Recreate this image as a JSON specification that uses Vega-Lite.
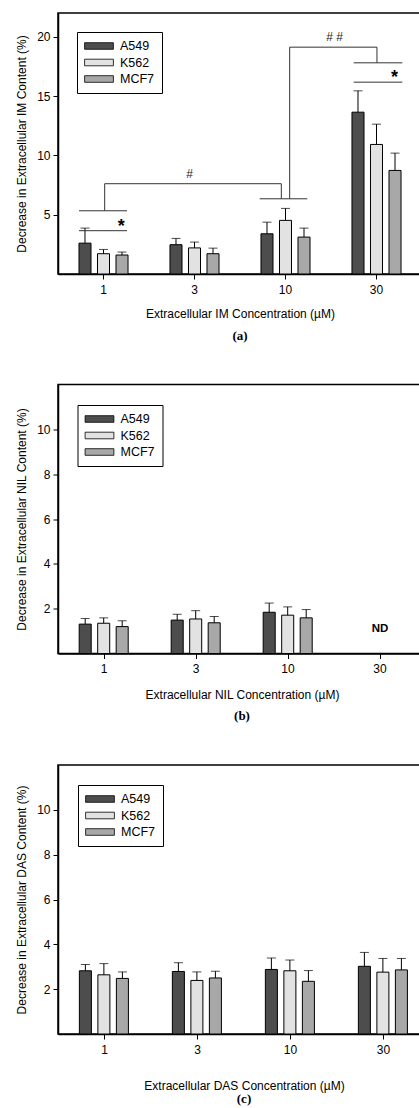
{
  "$schema": "https://vega.github.io/schema/vega-lite/v6.json",
  "padding": {"top": 12, "left": 14, "right": 0, "bottom": 0},
  "background": "white",
  "spacing": 39.5,
  "datasets": {
    "a_bars": [
      {"conc": "1", "cell": "A549", "mean": 2.6, "upper": 3.87},
      {"conc": "1", "cell": "K562", "mean": 1.71, "upper": 2.07},
      {"conc": "1", "cell": "MCF7", "mean": 1.6, "upper": 1.85},
      {"conc": "3", "cell": "A549", "mean": 2.47, "upper": 3.0},
      {"conc": "3", "cell": "K562", "mean": 2.2, "upper": 2.69},
      {"conc": "3", "cell": "MCF7", "mean": 1.71, "upper": 2.18},
      {"conc": "10", "cell": "A549", "mean": 3.39, "upper": 4.37},
      {"conc": "10", "cell": "K562", "mean": 4.52, "upper": 5.53},
      {"conc": "10", "cell": "MCF7", "mean": 3.11, "upper": 3.87},
      {"conc": "30", "cell": "A549", "mean": 13.64, "upper": 15.44},
      {"conc": "30", "cell": "K562", "mean": 10.92, "upper": 12.63},
      {"conc": "30", "cell": "MCF7", "mean": 8.73, "upper": 10.19}
    ],
    "b_bars": [
      {"conc": "1", "cell": "A549", "mean": 1.31, "upper": 1.56},
      {"conc": "1", "cell": "K562", "mean": 1.35, "upper": 1.59},
      {"conc": "1", "cell": "MCF7", "mean": 1.2, "upper": 1.46},
      {"conc": "3", "cell": "A549", "mean": 1.49, "upper": 1.75},
      {"conc": "3", "cell": "K562", "mean": 1.54, "upper": 1.91},
      {"conc": "3", "cell": "MCF7", "mean": 1.37, "upper": 1.65},
      {"conc": "10", "cell": "A549", "mean": 1.84, "upper": 2.25},
      {"conc": "10", "cell": "K562", "mean": 1.71, "upper": 2.08},
      {"conc": "10", "cell": "MCF7", "mean": 1.59, "upper": 1.96}
    ],
    "c_bars": [
      {"conc": "1", "cell": "A549", "mean": 2.82, "upper": 3.1},
      {"conc": "1", "cell": "K562", "mean": 2.64, "upper": 3.14},
      {"conc": "1", "cell": "MCF7", "mean": 2.48, "upper": 2.77},
      {"conc": "3", "cell": "A549", "mean": 2.79, "upper": 3.18},
      {"conc": "3", "cell": "K562", "mean": 2.39, "upper": 2.77},
      {"conc": "3", "cell": "MCF7", "mean": 2.5, "upper": 2.8},
      {"conc": "10", "cell": "A549", "mean": 2.88, "upper": 3.39},
      {"conc": "10", "cell": "K562", "mean": 2.82, "upper": 3.3},
      {"conc": "10", "cell": "MCF7", "mean": 2.35, "upper": 2.83},
      {"conc": "30", "cell": "A549", "mean": 3.02, "upper": 3.64},
      {"conc": "30", "cell": "K562", "mean": 2.76, "upper": 3.37},
      {"conc": "30", "cell": "MCF7", "mean": 2.86, "upper": 3.37}
    ],
    "a_lines": [
      {"x1": 0.231, "x2": 0.758, "y1": 5.33, "y2": 5.33},
      {"x1": 0.231, "x2": 0.758, "y1": 3.65, "y2": 3.65},
      {"x1": 0.513, "x2": 0.513, "y1": 5.33, "y2": 7.61},
      {"x1": 0.513, "x2": 2.454, "y1": 7.61, "y2": 7.61},
      {"x1": 2.454, "x2": 2.454, "y1": 7.61, "y2": 6.34},
      {"x1": 2.216, "x2": 2.74, "y1": 6.34, "y2": 6.34},
      {"x1": 2.546, "x2": 2.546, "y1": 6.34, "y2": 19.12},
      {"x1": 2.546, "x2": 3.505, "y1": 19.12, "y2": 19.12},
      {"x1": 3.505, "x2": 3.505, "y1": 19.12, "y2": 17.8},
      {"x1": 3.249, "x2": 3.784, "y1": 17.8, "y2": 17.8},
      {"x1": 3.249, "x2": 3.784, "y1": 16.17, "y2": 16.17}
    ],
    "a_stars": [
      {"x": 0.696, "y": 4.37, "label": "*"},
      {"x": 3.699, "y": 16.93, "label": "*"}
    ],
    "a_hash": [
      {"x": 1.447, "y": 8.39, "label": "#"},
      {"x": 3.04, "y": 19.96, "label": "# #"}
    ],
    "b_text": [
      {"conc": "30", "y": 1.1, "label": "ND"}
    ]
  },
  "vconcat": [
    {
      "width": 364,
      "height": 261,
      "title": {"text": "(a)", "orient": "bottom", "anchor": "middle", "offset": 10, "font": "Liberation Serif", "fontSize": 13, "fontWeight": "bold", "color": "black"},
      "layer": [
        {
          "data": {"name": "a_bars"},
          "encoding": {
            "x": {"field": "conc", "type": "nominal", "sort": ["1", "3", "10", "30"],
              "scale": {"domain": ["1", "3", "10", "30"], "paddingInner": 0.39, "paddingOuter": 0.195},
              "axis": {"title": "Extracellular IM Concentration (µM)", "labelAngle": 0, "labelPadding": 5, "titlePadding": 13.5}},
            "xOffset": {"field": "cell", "type": "nominal", "scale": {"paddingInner": 0.35, "paddingOuter": 0.175}}
          },
          "layer": [
            {
              "mark": {"type": "bar", "stroke": "black", "strokeWidth": 1},
              "encoding": {
                "y": {"field": "mean", "type": "quantitative", "scale": {"domain": [0, 22], "nice": false},
                  "axis": {"values": [5, 10, 15, 20], "title": "Decrease in Extracellular IM Content (%)", "labelPadding": 3, "titlePadding": 8}},
                "fill": {"field": "cell", "type": "nominal",
                  "scale": {"domain": ["A549", "K562", "MCF7"], "range": ["#4d4d4d", "#e2e2e2", "#a8a8a8"]},
                  "legend": {"orient": "none", "legendX": 19, "legendY": 19, "title": null, "strokeColor": "black", "fillColor": "white", "padding": 7.5,
                    "symbolType": "M-2.4,-0.55H2.4V0.55H-2.4Z", "symbolSize": 144, "symbolStrokeColor": "black", "symbolStrokeWidth": 0.8,
                    "symbolOffset": 8, "labelOffset": 14.5, "labelFontSize": 12.5, "labelColor": "black", "rowPadding": 3.5}}
              }
            },
            {
              "mark": {"type": "rule", "color": "black", "strokeWidth": 1},
              "encoding": {"y": {"field": "mean", "type": "quantitative"}, "y2": {"field": "upper"}}
            },
            {
              "mark": {"type": "tick", "color": "black", "size": 9, "thickness": 1},
              "encoding": {"y": {"field": "upper", "type": "quantitative"}}
            }
          ]
        },
        {
          "layer": [
            {
              "data": {"name": "a_lines"},
              "mark": {"type": "rule", "color": "#333333", "strokeWidth": 1},
              "encoding": {
                "x": {"field": "x1", "type": "quantitative", "scale": {"domain": [0, 4], "nice": false, "zero": false}, "axis": null},
                "x2": {"field": "x2"},
                "y": {"field": "y1", "type": "quantitative"},
                "y2": {"field": "y2"}
              }
            },
            {
              "data": {"name": "a_stars"},
              "mark": {"type": "text", "font": "Liberation Sans", "fontSize": 18, "fontWeight": "bold", "baseline": "alphabetic", "dy": 10, "color": "black"},
              "encoding": {
                "x": {"field": "x", "type": "quantitative"},
                "y": {"field": "y", "type": "quantitative"},
                "text": {"field": "label"}
              }
            },
            {
              "data": {"name": "a_hash"},
              "mark": {"type": "text", "font": "Liberation Sans", "fontSize": 12, "baseline": "middle", "color": "#222222"},
              "encoding": {
                "x": {"field": "x", "type": "quantitative"},
                "y": {"field": "y", "type": "quantitative"},
                "text": {"field": "label"}
              }
            }
          ]
        }
      ],
      "resolve": {"scale": {"x": "independent"}, "axis": {"x": "independent"}}
    },
    {
      "width": 368,
      "height": 269,
      "title": {"text": "(b)", "orient": "bottom", "anchor": "middle", "offset": 9.5, "font": "Liberation Serif", "fontSize": 13, "fontWeight": "bold", "color": "black"},
      "encoding": {
        "x": {"field": "conc", "type": "nominal", "sort": ["1", "3", "10", "30"],
          "scale": {"domain": ["1", "3", "10", "30"], "paddingInner": 0.39, "paddingOuter": 0.195},
          "axis": {"title": "Extracellular NIL Concentration (µM)", "labelAngle": 0, "labelPadding": 5, "titlePadding": 15}}
      },
      "layer": [
        {
          "data": {"name": "b_bars"},
          "encoding": {
            "xOffset": {"field": "cell", "type": "nominal", "scale": {"paddingInner": 0.35, "paddingOuter": 0.175}}
          },
          "layer": [
            {
              "mark": {"type": "bar", "stroke": "black", "strokeWidth": 1},
              "encoding": {
                "y": {"field": "mean", "type": "quantitative", "scale": {"domain": [0, 12], "nice": false},
                  "axis": {"values": [2, 4, 6, 8, 10], "title": "Decrease in Extracellular NIL Content (%)", "labelPadding": 3, "titlePadding": 8}},
                "fill": {"field": "cell", "type": "nominal",
                  "scale": {"domain": ["A549", "K562", "MCF7"], "range": ["#4d4d4d", "#e2e2e2", "#a8a8a8"]},
                  "legend": {"orient": "none", "legendX": 19.5, "legendY": 20.5, "title": null, "strokeColor": "black", "fillColor": "white", "padding": 7.5,
                    "symbolType": "M-2.4,-0.55H2.4V0.55H-2.4Z", "symbolSize": 144, "symbolStrokeColor": "black", "symbolStrokeWidth": 0.8,
                    "symbolOffset": 8, "labelOffset": 14.5, "labelFontSize": 12.5, "labelColor": "black", "rowPadding": 3.5}}
              }
            },
            {
              "mark": {"type": "rule", "color": "black", "strokeWidth": 1},
              "encoding": {"y": {"field": "mean", "type": "quantitative"}, "y2": {"field": "upper"}}
            },
            {
              "mark": {"type": "tick", "color": "black", "size": 9, "thickness": 1},
              "encoding": {"y": {"field": "upper", "type": "quantitative"}}
            }
          ]
        },
        {
          "data": {"name": "b_text"},
          "mark": {"type": "text", "font": "Liberation Sans", "fontSize": 11.5, "fontWeight": "bold", "baseline": "middle", "color": "black"},
          "encoding": {
            "y": {"field": "y", "type": "quantitative"},
            "text": {"field": "label"}
          }
        }
      ]
    },
    {
      "width": 372,
      "height": 269,
      "title": {"text": "(c)", "orient": "bottom", "anchor": "middle", "offset": 2, "font": "Liberation Serif", "fontSize": 13, "fontWeight": "bold", "color": "black"},
      "data": {"name": "c_bars"},
      "encoding": {
        "x": {"field": "conc", "type": "nominal", "sort": ["1", "3", "10", "30"],
          "scale": {"domain": ["1", "3", "10", "30"], "paddingInner": 0.39, "paddingOuter": 0.195},
          "axis": {"title": "Extracellular DAS Concentration (µM)", "labelAngle": 0, "labelPadding": 5, "titlePadding": 25}},
        "xOffset": {"field": "cell", "type": "nominal", "scale": {"paddingInner": 0.35, "paddingOuter": 0.175}}
      },
      "layer": [
        {
          "mark": {"type": "bar", "stroke": "black", "strokeWidth": 1},
          "encoding": {
            "y": {"field": "mean", "type": "quantitative", "scale": {"domain": [0, 12], "nice": false},
              "axis": {"values": [2, 4, 6, 8, 10], "title": "Decrease in Extracellular DAS Content (%)", "labelPadding": 3, "titlePadding": 8}},
            "fill": {"field": "cell", "type": "nominal",
              "scale": {"domain": ["A549", "K562", "MCF7"], "range": ["#4d4d4d", "#e2e2e2", "#a8a8a8"]},
              "legend": {"orient": "none", "legendX": 20, "legendY": 20, "title": null, "strokeColor": "black", "fillColor": "white", "padding": 7.5,
                "symbolType": "M-2.4,-0.55H2.4V0.55H-2.4Z", "symbolSize": 144, "symbolStrokeColor": "black", "symbolStrokeWidth": 0.8,
                "symbolOffset": 8, "labelOffset": 14.5, "labelFontSize": 12.5, "labelColor": "black", "rowPadding": 3.5}}
          }
        },
        {
          "mark": {"type": "rule", "color": "black", "strokeWidth": 1},
          "encoding": {"y": {"field": "mean", "type": "quantitative"}, "y2": {"field": "upper"}}
        },
        {
          "mark": {"type": "tick", "color": "black", "size": 9, "thickness": 1},
          "encoding": {"y": {"field": "upper", "type": "quantitative"}}
        }
      ]
    }
  ],
  "resolve": {"scale": {"fill": "independent"}, "legend": {"fill": "independent"}},
  "config": {
    "font": "Liberation Sans",
    "view": {"stroke": "black", "strokeWidth": 1.5},
    "axis": {"domainColor": "black", "domainWidth": 1.5, "tickColor": "black", "tickSize": 5, "tickWidth": 1,
      "labelColor": "black", "labelFont": "Liberation Sans", "labelFontSize": 12,
      "titleFont": "Liberation Sans", "titleFontSize": 12, "titleFontWeight": "normal", "titleColor": "black", "grid": false},
    "legend": {"labelFont": "Liberation Sans"}
  }
}
